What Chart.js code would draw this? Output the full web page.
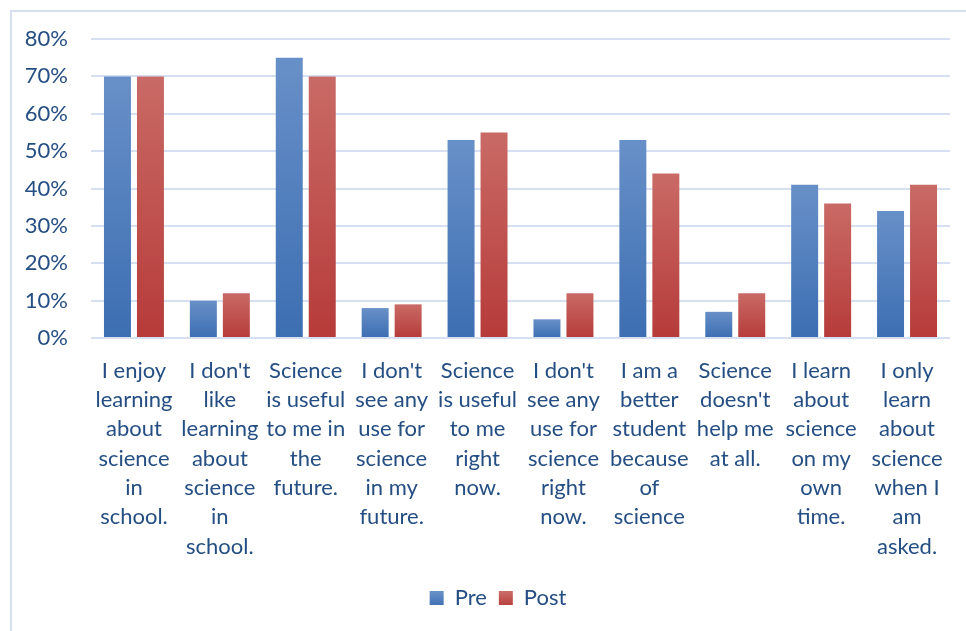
<!DOCTYPE html>
<html>
<head>
<meta charset="utf-8">
<script src="https://cdn.jsdelivr.net/npm/chart.js@4"></script>
<style>
  html, body { margin: 0; padding: 0; background: #ffffff; overflow: hidden; }
  #wrap { width: 966px; height: 631px; position: relative; }
</style>
</head>
<body>
<div id="wrap"><canvas id="c" width="966" height="631"></canvas></div>
<script>
// Survey statements (multi-line axis labels)
const categories = [
  ["I enjoy", "learning", "about", "science", "in", "school."],
  ["I don't", "like", "learning", "about", "science", "in", "school."],
  ["Science", "is useful", "to me in", "the", "future."],
  ["I don't", "see any", "use for", "science", "in my", "future."],
  ["Science", "is useful", "to me", "right", "now."],
  ["I don't", "see any", "use for", "science", "right", "now."],
  ["I am a", "better", "student", "because", "of", "science"],
  ["Science", "doesn't", "help me", "at all."],
  ["I learn", "about", "science", "on my", "own", "time."],
  ["I only", "learn", "about", "science", "when I", "am", "asked."]
];

// Share of students agreeing (%)
const preValues  = [70, 10, 75, 8, 53, 5, 53, 7, 41, 34];
const postValues = [70, 12, 70, 9, 55, 12, 44, 12, 36, 41];

const yTicks = [0, 10, 20, 30, 40, 50, 60, 70, 80];

const TEXT = "#254e83";
const FONT = "Lato, 'Open Sans', sans-serif";

// Vertical gradient for each bar: lighter at the top, deeper at the base
function barFill(topColor, bottomColor, solid) {
  return function (ctx) {
    const chart = ctx.chart;
    if (ctx.type !== "data" || !chart.chartArea || !chart.scales.y) return solid;
    const y = chart.scales.y;
    const top = y.getPixelForValue(ctx.raw);
    const base = y.getPixelForValue(0);
    if (!isFinite(top) || !isFinite(base) || top === base) return solid;
    const g = chart.ctx.createLinearGradient(0, top, 0, base);
    g.addColorStop(0, topColor);
    g.addColorStop(1, bottomColor);
    return g;
  };
}

// Thin frame along the top and left edges of the chart box
const framePlugin = {
  id: "frame",
  beforeDraw(chart) {
    const c = chart.ctx;
    c.save();
    c.strokeStyle = "#d5dff0";
    c.lineWidth = 2;
    c.beginPath();
    c.moveTo(11, chart.height);
    c.lineTo(11, 11);
    c.lineTo(chart.width, 11);
    c.stroke();
    c.restore();
  }
};

// Center the legend a little to the right, under the frame's inner area
const legendShift = {
  id: "legendShift",
  afterLayout(chart) {
    if (chart.legend) chart.legend.left += 46;
  }
};

function legendSwatch(chart, top, bottom) {
  const g = chart.ctx.createLinearGradient(0, 592, 0, 607);
  g.addColorStop(0, top);
  g.addColorStop(1, bottom);
  return g;
}

new Chart(document.getElementById("c"), {
  type: "bar",
  data: {
    labels: categories,
    datasets: [
      {
        label: "Pre",
        data: preValues,
        backgroundColor: barFill("#6890c8", "#3c6eb2", "#4a7cbd"),
        borderWidth: 0,
        categoryPercentage: 0.768,
        barPercentage: 0.818
      },
      {
        label: "Post",
        data: postValues,
        backgroundColor: barFill("#c96a66", "#b63b39", "#bf4f4c"),
        borderWidth: 0,
        categoryPercentage: 0.768,
        barPercentage: 0.818
      }
    ]
  },
  options: {
    responsive: false,
    animation: false,
    layout: { padding: { top: 39, right: 16, left: 0, bottom: 12 } },
    plugins: {
      tooltip: { enabled: false },
      legend: {
        position: "bottom",
        labels: {
          color: TEXT,
          font: { family: FONT, size: 22 },
          boxWidth: 14,
          boxHeight: 14,
          padding: 12,
          generateLabels(chart) {
            return [
              { text: "Pre", fillStyle: legendSwatch(chart, "#6890c8", "#3c6eb2"), strokeStyle: "rgba(0,0,0,0)", lineWidth: 0, datasetIndex: 0, fontColor: TEXT },
              { text: "Post", fillStyle: legendSwatch(chart, "#c96a66", "#b63b39"), strokeStyle: "rgba(0,0,0,0)", lineWidth: 0, datasetIndex: 1, fontColor: TEXT }
            ];
          }
        }
      }
    },
    scales: {
      x: {
        grid: { display: false, drawTicks: false },
        border: { display: false },
        ticks: {
          color: TEXT,
          font: { family: FONT, size: 22, lineHeight: 1.333 },
          padding: 18,
          maxRotation: 0,
          minRotation: 0,
          autoSkip: false
        },
        afterFit(scale) { scale.height = 237; }
      },
      y: {
        min: 0,
        max: 80,
        afterBuildTicks(scale) { scale.ticks = yTicks.map(v => ({ value: v })); },
        grid: { color: "#d6e0f2", lineWidth: 2, drawTicks: false },
        border: { display: false },
        ticks: {
          color: TEXT,
          font: { family: FONT, size: 22 },
          padding: 23,
          callback: v => v + "%"
        },
        afterFit(scale) { scale.width = 91; }
      }
    }
  },
  plugins: [framePlugin, legendShift]
});
</script>
</body>
</html>
